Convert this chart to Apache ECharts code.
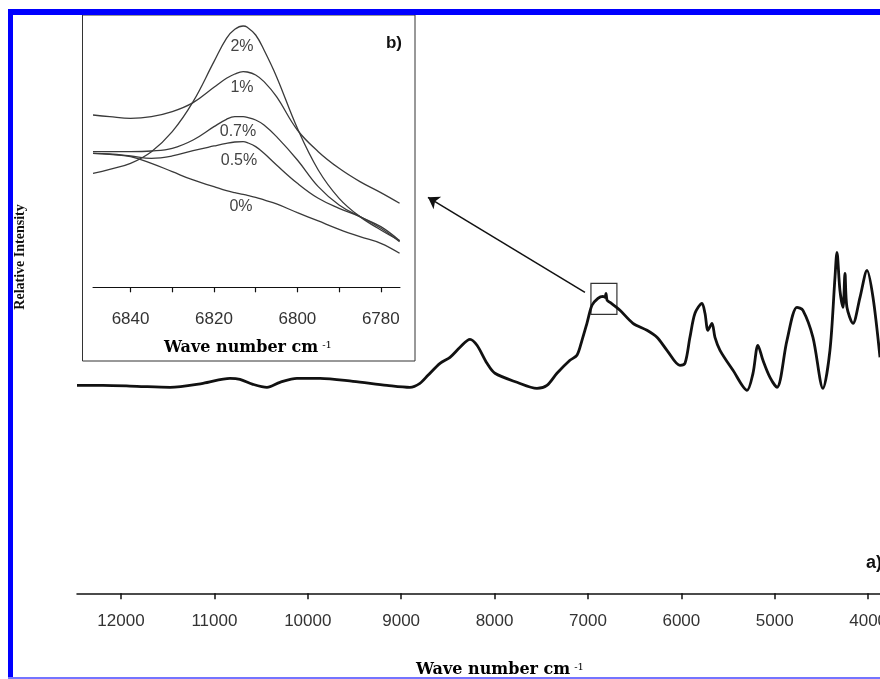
<!DOCTYPE html>
<html>
<head>
<meta charset="utf-8">
<script src="https://cdn.jsdelivr.net/npm/echarts@6/dist/echarts.min.js"></script>
<style>
  html, body { margin: 0; padding: 0; background: #fff; }
  #main { width: 880px; height: 679px; }
</style>
</head>
<body>
<div id="main"></div>
<script>
// a) full NIR spectrum (wave number cm-1 / relative intensity)
var mainWave = [12471, 12193, 11829, 11475, 11122, 10833, 10726, 10587, 10437, 10298, 10116, 9869, 9516, 9152, 8906, 8799, 8713,
  8584, 8477, 8370, 8263, 8188, 8081, 7996, 7760, 7546, 7439, 7332, 7193, 7118, 7064, 7011, 6957, 6893, 6840, 6818, 6807, 6795,
  6764, 6657, 6518, 6368, 6261, 6154, 6015, 5961, 5908, 5854, 5779, 5747, 5715, 5672, 5640, 5586, 5447, 5297, 5233, 5180, 5126,
  5051, 4976, 4869, 4762, 4698, 4591, 4484, 4409, 4355, 4334, 4302, 4269, 4248, 4227, 4162, 4087, 4012, 3948, 3873];
var mainIntensity = [2.08, 2.08, 2.07, 2.06, 2.10, 2.15, 2.14, 2.09, 2.06, 2.11, 2.15, 2.15, 2.12, 2.08, 2.06, 2.10, 2.18,
  2.30, 2.36, 2.46, 2.54, 2.48, 2.30, 2.20, 2.11, 2.05, 2.08, 2.20, 2.33, 2.38, 2.53, 2.70, 2.88, 2.95, 2.97, 2.96, 3.00, 2.93,
  2.91, 2.83, 2.70, 2.63, 2.56, 2.43, 2.28, 2.30, 2.56, 2.80, 2.90, 2.80, 2.63, 2.70, 2.56, 2.43, 2.23, 2.03, 2.20, 2.48, 2.33,
  2.16, 2.06, 2.53, 2.86, 2.83, 2.56, 2.05, 2.43, 3.16, 3.41, 3.03, 2.86, 3.20, 2.86, 2.70, 2.96, 3.23, 2.96, 2.36];
var mainTicks = [12000, 11000, 10000, 9000, 8000, 7000, 6000, 5000, 4000];

// b) zoom on the 6800 cm-1 band
var insetWave = [6849, 6845, 6840, 6835, 6830, 6825, 6820, 6817, 6815, 6813, 6812, 6810, 6808, 6805, 6800, 6795, 6790, 6785, 6780, 6775.5];
var conc2 = [3.42, 3.54, 3.72, 4.07, 4.67, 5.57, 6.77, 7.47, 7.74, 7.84, 7.80, 7.57, 7.12, 6.32, 4.77, 3.52, 2.67, 2.12, 1.72, 1.40];
var conc1 = [5.17, 5.12, 5.07, 5.12, 5.27, 5.54, 6.00, 6.27, 6.40, 6.47, 6.46, 6.37, 6.17, 5.72, 4.72, 4.07, 3.57, 3.17, 2.84, 2.52];
var conc07 = [4.07, 4.07, 4.07, 4.09, 4.17, 4.42, 4.82, 5.04, 5.12, 5.12, 5.10, 5.02, 4.87, 4.52, 3.82, 3.02, 2.47, 2.12, 1.82, 1.40];
var conc05 = [4.02, 4.00, 3.94, 3.87, 3.94, 4.10, 4.24, 4.32, 4.36, 4.37, 4.34, 4.22, 4.02, 3.67, 3.12, 2.67, 2.37, 2.12, 1.77, 1.37];
var conc0 = [4.02, 3.99, 3.92, 3.72, 3.47, 3.22, 3.02, 2.90, 2.84, 2.79, 2.76, 2.70, 2.62, 2.50, 2.24, 1.99, 1.74, 1.52, 1.32, 1.02];
var insetTicks = [6840, 6830, 6820, 6810, 6800, 6790, 6780];
var insetLabels = [6840, 6820, 6800, 6780];
var concNames = ['2%', '1%', '0.7%', '0.5%', '0%'];

// zoom box and arrow on the main spectrum (in data units)
var zoomBox = [[6968, 3.10], [6690, 2.79]];
var arrowFrom = [7032, 3.01], arrowTo = [8713, 3.96];

function pairs(xs, ys) {
  var out = [];
  for (var i = 0; i < xs.length; i++) out.push([xs[i], ys[i]]);
  return out;
}
function plain(v) { return String(v); }

var chart = echarts.init(document.getElementById('main'), null, { renderer: 'canvas' });

var titleRich = {
  t: { fontFamily: 'DejaVu Serif', fontWeight: 'bold', fontSize: 16, color: '#111' },
  s: { fontFamily: 'DejaVu Serif', fontSize: 10, color: '#111', verticalAlign: 'top', padding: [0, 0, 6, 4] }
};

var insetSeries = [conc2, conc1, conc07, conc05, conc0].map(function (arr, i) {
  return {
    name: concNames[i],
    type: 'line',
    xAxisIndex: 1,
    yAxisIndex: 1,
    data: pairs(insetWave, arr),
    smooth: 0.4,
    symbol: 'none',
    lineStyle: { color: '#3a3a3a', width: 1.3 }
  };
});

// label positions of the inset curves
var labelPos = [[242, 47], [242, 88], [238, 132], [239, 161], [241, 207]];

var option = {
  animation: false,
  backgroundColor: '#fff',
  grid: [
    { left: 77, right: 0, top: 15, bottom: 85.7, containLabel: false, outerBoundsMode: 'none' },
    { left: 93, top: 15, width: 307, height: 272.3, containLabel: false, outerBoundsMode: 'none' }
  ],
  xAxis: [
    {
      gridIndex: 0, type: 'value', min: 3873, max: 12471, inverse: true,
      axisLine: { lineStyle: { color: '#111', width: 1.5 } },
      axisTick: { customValues: mainTicks, length: 6, lineStyle: { color: '#111', width: 1.5 } },
      axisLabel: { customValues: mainTicks, formatter: plain, fontFamily: 'Liberation Sans', fontSize: 17, color: '#333', margin: 20 },
      splitLine: { show: false }
    },
    {
      gridIndex: 1, type: 'value', min: 6775.4, max: 6849, inverse: true,
      axisLine: { lineStyle: { color: '#111', width: 1 } },
      axisTick: { customValues: insetTicks, length: 5, lineStyle: { color: '#111', width: 1.2 } },
      axisLabel: { customValues: insetLabels, formatter: plain, fontFamily: 'Liberation Sans', fontSize: 17, color: '#333', margin: 24 },
      splitLine: { show: false }
    }
  ],
  yAxis: [
    { gridIndex: 0, type: 'value', min: 0, max: 5.783, show: false },
    { gridIndex: 1, type: 'value', min: 0, max: 8.17, show: false }
  ],
  series: [
    {
      name: 'spectrum',
      type: 'line',
      data: pairs(mainWave, mainIntensity),
      smooth: 0.3,
      symbol: 'none',
      lineStyle: { color: '#111', width: 2.8 },
      markArea: {
        silent: true,
        itemStyle: { color: 'rgba(0,0,0,0)', borderColor: '#333', borderWidth: 1.2 },
        data: [[{ coord: zoomBox[0] }, { coord: zoomBox[1] }]]
      },
      markLine: {
        silent: true,
        symbol: ['none', 'arrow'],
        symbolSize: 11,
        label: { show: false },
        lineStyle: { color: '#111', width: 1.5, type: 'solid' },
        data: [[{ coord: arrowFrom }, { coord: arrowTo }]]
      }
    }
  ].concat(insetSeries),
  graphic: [
    // inset frame
    { type: 'rect', shape: { x: 82.5, y: 15, width: 332.5, height: 346 }, style: { fill: null, stroke: '#333', lineWidth: 1 }, z: 5 },
    { type: 'text', x: 394, y: 43, style: { text: 'b)', fontFamily: 'Liberation Sans', fontWeight: 'bold', fontSize: 17, fill: '#111', align: 'center', verticalAlign: 'middle' }, z: 10 },
    { type: 'text', x: 248, y: 348, style: { text: '{t|Wave number cm}{s|-1}', rich: titleRich, align: 'center', verticalAlign: 'middle' }, z: 10 },
    { type: 'text', x: 500, y: 670, style: { text: '{t|Wave number cm}{s|-1}', rich: titleRich, align: 'center', verticalAlign: 'middle' }, z: 10 },
    { type: 'text', x: 20, y: 257, rotation: Math.PI / 2, style: { text: 'Relative Intensity', fontFamily: 'Liberation Serif', fontWeight: 'bold', fontSize: 14, fill: '#111', align: 'center', verticalAlign: 'middle' }, z: 10 },
    { type: 'text', x: 866, y: 563, style: { text: 'a)', fontFamily: 'Liberation Sans', fontWeight: 'bold', fontSize: 18, fill: '#111', align: 'left', verticalAlign: 'middle' }, z: 10 },
    // blue frame of the figure
    { type: 'rect', shape: { x: 8, y: 9, width: 872, height: 6 }, style: { fill: '#0000ff' }, z: 20 },
    { type: 'rect', shape: { x: 8, y: 9, width: 5, height: 670 }, style: { fill: '#0000ff' }, z: 20 },
    { type: 'rect', shape: { x: 8, y: 677, width: 872, height: 2 }, style: { fill: '#7474ff' }, z: 20 }
  ].concat(concNames.map(function (n, i) {
    return {
      type: 'text', x: labelPos[i][0], y: labelPos[i][1], z: 10,
      style: { text: n, fontFamily: 'Liberation Sans', fontSize: 16, fill: '#444', align: 'center', verticalAlign: 'middle' }
    };
  }))
};

chart.setOption(option);
</script>
</body>
</html>
